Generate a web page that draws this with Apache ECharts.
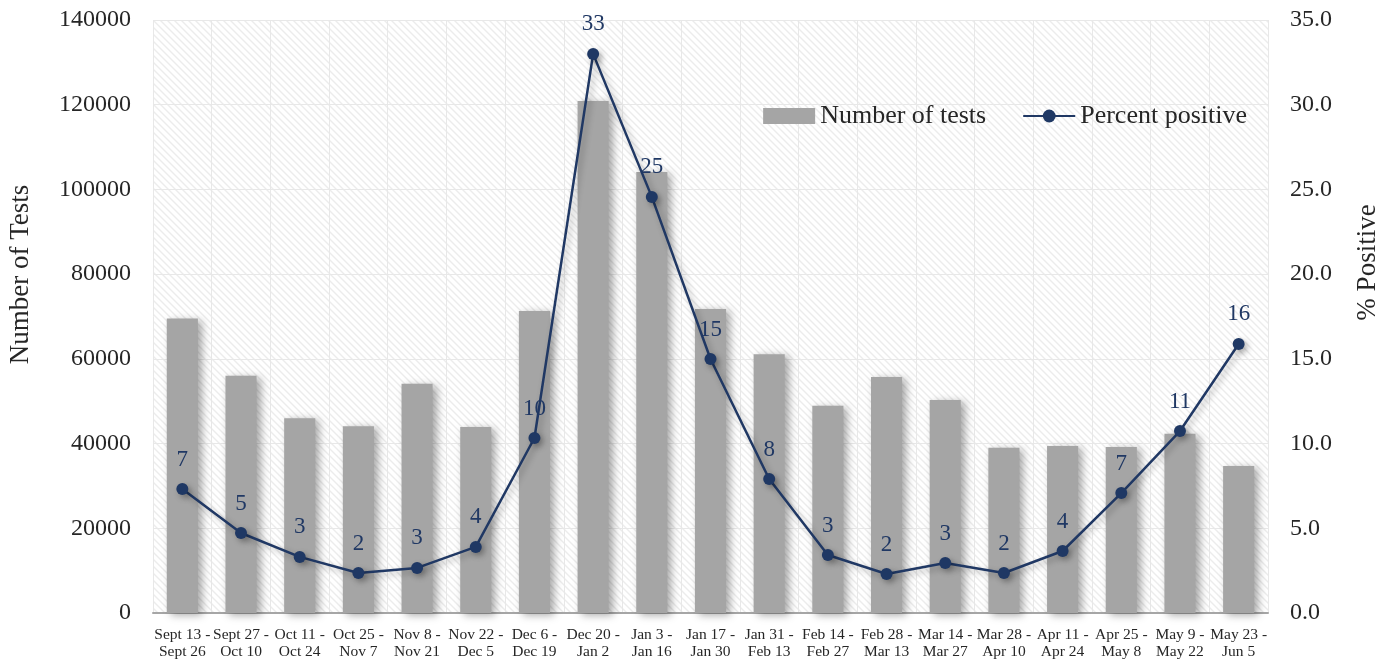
<!DOCTYPE html>
<html><head><meta charset="utf-8">
<script src="https://cdn.jsdelivr.net/npm/echarts@6/dist/echarts.min.js"></script>
<style>html,body{margin:0;padding:0;background:#fff}#c{width:1394px;height:662px}</style>
</head><body><div id="c"></div>
<script>
const categories = ["Sept 13 -\nSept 26","Sept 27 -\nOct 10","Oct 11 -\nOct 24","Oct 25 -\nNov 7","Nov 8 -\nNov 21","Nov 22 -\nDec 5","Dec 6 -\nDec 19","Dec 20 -\nJan 2","Jan 3 -\nJan 16","Jan 17 -\nJan 30","Jan 31 -\nFeb 13","Feb 14 -\nFeb 27","Feb 28 -\nMar 13","Mar 14 -\nMar 27","Mar 28 -\nApr 10","Apr 11 -\nApr 24","Apr 25 -\nMay 8","May 9 -\nMay 22","May 23 -\nJun 5"];
const numberOfTests = [69500,56000,46000,44100,54100,43900,71300,120900,104100,71800,61100,48900,55700,50300,39000,39400,39200,42300,34700];
const percentPositive = [7.32,4.72,3.31,2.36,2.66,3.90,10.33,33.0,24.56,14.99,7.91,3.42,2.30,2.95,2.36,3.66,7.08,10.74,15.88];

const cv = document.createElement('canvas');
cv.width = 7; cv.height = 7;
const g = cv.getContext('2d');
g.fillStyle = '#ffffff'; g.fillRect(0,0,7,7);
g.strokeStyle = '#ececec'; g.lineWidth = 1.4;
g.beginPath();
g.moveTo(-1,-1); g.lineTo(8,8);
g.moveTo(-8,-1); g.lineTo(1,8);
g.moveTo(6,-1); g.lineTo(15,8);
g.stroke();

const font = '"Liberation Serif", "DejaVu Serif", serif';
const chart = echarts.init(document.getElementById('c'), null, {renderer:'canvas'});
chart.setOption({
  animation:false,
  backgroundColor:'#ffffff',
  textStyle:{fontFamily:font},
  grid:{left:153,right:126,top:20,bottom:49,containLabel:false,outerBoundsMode:'none',show:true,backgroundColor:{image:cv,repeat:'repeat'},borderWidth:0},
  legend:{
    right:142, top:98, itemWidth:52, itemHeight:16, itemGap:36,
    textStyle:{fontFamily:font,fontSize:26,color:'#262626',padding:[0,0,0,0]},
    data:[{name:'Number of tests',icon:'rect'},{name:'Percent positive'}]
  },
  xAxis:{
    type:'category', data:categories, boundaryGap:true,
    axisLine:{lineStyle:{color:'#a6a6a6',width:2}},
    axisTick:{show:false},
    splitLine:{show:true,lineStyle:{color:'#e8e8e8',width:1}},
    axisLabel:{interval:0,fontFamily:font,fontSize:15.5,color:'#262626',lineHeight:17,margin:13}
  },
  yAxis:[{
    type:'value', min:0, max:140000, interval:20000,
    name:'Number of Tests', nameLocation:'middle', nameGap:119,
    nameTextStyle:{fontFamily:font,fontSize:27,color:'#262626',padding:[0,0,0,84]},
    axisLine:{show:false}, axisTick:{show:false},
    splitLine:{lineStyle:{color:'#e8e8e8',width:1}},
    axisLabel:{fontFamily:font,fontSize:24,color:'#262626',margin:22,formatter:v=>String(v)}
  },{
    type:'value', min:0, max:35, interval:5,
    name:'% Positive', nameLocation:'middle', nameGap:86,
    nameTextStyle:{fontFamily:font,fontSize:27,color:'#262626',padding:[0,0,0,108]},
    axisLine:{show:false}, axisTick:{show:false}, splitLine:{show:false},
    axisLabel:{fontFamily:font,fontSize:24,color:'#262626',margin:22,formatter:v=>v.toFixed(1)}
  }],
  series:[{
    name:'Number of tests', type:'bar', data:numberOfTests, barWidth:'53%',
    itemStyle:{color:'#a5a5a5',shadowColor:'rgba(0,0,0,0.35)',shadowBlur:8,shadowOffsetX:4,shadowOffsetY:2}
  },{
    name:'Percent positive', type:'line', yAxisIndex:1, data:percentPositive,
    symbol:'circle', symbolSize:12, smooth:false,
    lineStyle:{color:'#203864',width:2.5,shadowColor:'rgba(0,0,0,0.3)',shadowBlur:6,shadowOffsetX:3,shadowOffsetY:3},
    itemStyle:{color:'#1f3864',shadowColor:'rgba(0,0,0,0.3)',shadowBlur:6,shadowOffsetX:3,shadowOffsetY:3},
    label:{show:true,position:'top',distance:12,fontFamily:font,fontSize:23,color:'#203864',formatter:p=>Math.round(p.value)}
  }]
});
</script></body></html>
